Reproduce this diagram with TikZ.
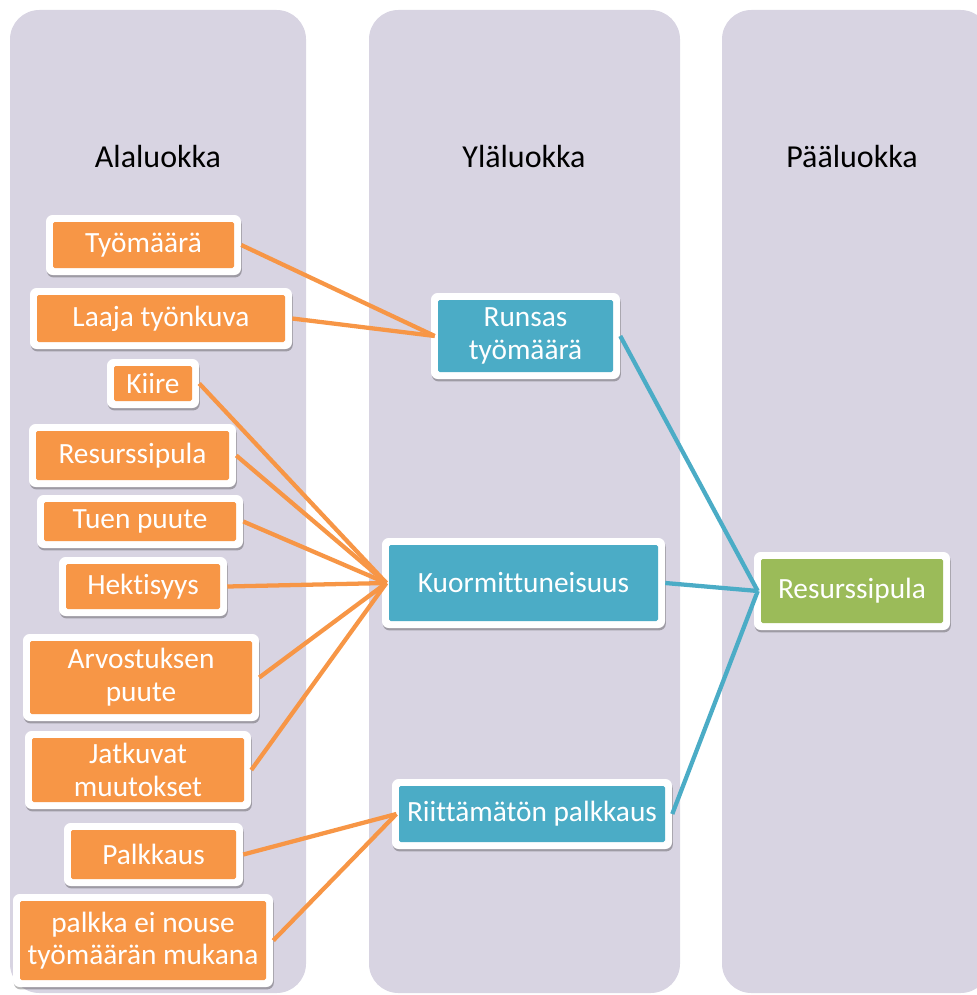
\documentclass[tikz,border=0pt]{standalone}
\usepackage{fontspec}
\setmainfont{Carlito}[Ligatures=CommonOff, Contextuals=AlternateOff]
\usetikzlibrary{shadows}

\definecolor{lanefill}{HTML}{D8D4E2}
\definecolor{subcol}{HTML}{F79646}
\definecolor{midcol}{HTML}{4BACC6}
\definecolor{maincol}{HTML}{9BBB59}

\tikzset{
  x=0.75pt, y=-0.75pt,
  lane/.style={fill=lanefill, rounded corners=22pt},
  head/.style={font=\fontsize{24}{28}\selectfont, text=black, inner sep=0pt, anchor=base},
  card/.style={rectangle, fill=white, rounded corners=5pt, inner sep=0pt,
    drop shadow={shadow xshift=0.6pt, shadow yshift=-1.8pt, opacity=0.35, fill=black!80},
    text=white, align=center, font=\fontsize{22}{24.5}\selectfont,
    path picture={\fill[#1, rounded corners=1.2pt]
      ([shift={(5.25pt,5.25pt)}]path picture bounding box.south west) rectangle
      ([shift={(-5.25pt,-5.25pt)}]path picture bounding box.north east);}},
  subcard/.style={card=subcol},
  midcard/.style={card=midcol},
  maincard/.style={card=maincol},
  oline/.style={draw=subcol, line width=3.2pt},
  bline/.style={draw=midcol, line width=3.2pt},
}

\begin{document}
\begin{tikzpicture}
\useasboundingbox (0,0) rectangle (977,995);
\clip (0,0) rectangle (977,995);

% column lanes
\fill[lane] (10,10) rectangle (306,993);
\fill[lane] (369,10) rectangle (680,993);
\fill[lane] (722,10) rectangle (990,993);

% column headings
\node[head] (h1) at (158,167) {Alaluokka};
\node[head] (h2) at (524,167) {Yläluokka};
\node[head] (h3) at (852,167) {Pääluokka};

% sub-categories
\node[subcard, minimum width=146.25pt, minimum height=45pt]    (tyo)   at (143.5,245)   {Työmäärä};
\node[subcard, minimum width=196.5pt,  minimum height=45.75pt] (laaja) at (161,318.5)   {Laaja työnkuva};
\node[subcard, minimum width=69pt,     minimum height=36.75pt] (kiire) at (153,383.5)   {Kiire};
\node[subcard, minimum width=155.25pt, minimum height=47.25pt] (resl)  at (132.5,455.5) {Resurssipula};
\node[subcard, minimum width=154.5pt,  minimum height=39.75pt] (tuen)  at (140,521.5)   {Tuen puute};
\node[subcard, minimum width=126pt,    minimum height=44.25pt] (hekt)  at (143,586.5)   {Hektisyys};
\node[subcard, minimum width=177pt,    minimum height=65.25pt] (arvo)  at (141,677.5)   {Arvostuksen\\puute};
\node[subcard, minimum width=169.5pt,  minimum height=58.5pt]  (jatk)  at (138,770)     {Jatkuvat\\muutokset};
\node[subcard, minimum width=134.25pt, minimum height=47.25pt] (palk)  at (153.5,854.5) {Palkkaus};
\node[subcard, minimum width=195pt,    minimum height=69.75pt] (nouse) at (143,940.5)   {palkka ei nouse\\työmäärän mukana};

% upper categories
\node[midcard, minimum width=141.75pt, minimum height=64.5pt] (runsas) at (525.5,336) {Runsas\\työmäärä};
\node[midcard, minimum width=212.25pt, minimum height=67.5pt] (kuorm)  at (523.5,583) {Kuormittuneisuus};
\node[midcard, minimum width=210pt,    minimum height=52.5pt] (riitt)  at (532,814)   {Riittämätön palkkaus};

% main category
\node[maincard, minimum width=147pt, minimum height=58.5pt] (resr) at (852,591) {Resurssipula};

% connectors: sub-categories to upper categories
\foreach \s in {tyo, laaja}
  \draw[oline] (\s.east) -- ([xshift=3pt]runsas.west);
\foreach \s in {kiire, resl, tuen, hekt, arvo, jatk}
  \draw[oline] (\s.east) -- ([xshift=3.5pt]kuorm.west);
\foreach \s in {palk, nouse}
  \draw[oline] (\s.east) -- ([xshift=3.5pt]riitt.west);

% connectors: upper categories to main category
\foreach \s in {runsas, kuorm, riitt}
  \draw[bline] (\s.east) -- ([xshift=3pt]resr.west);
\end{tikzpicture}
\end{document}
